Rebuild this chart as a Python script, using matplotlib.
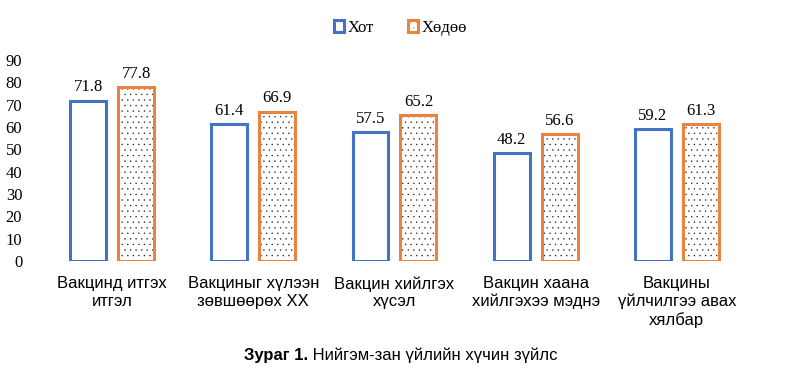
import matplotlib.pyplot as plt
from matplotlib.patches import Patch
import numpy as np

categories = ['Вакцинд итгэх\nитгэл', 'Вакциныг хүлээн\nзөвшөөрөх XX', 'Вакцин хийлгэх\nхүсэл',
              'Вакцин хаана\nхийлгэхээ мэднэ', 'Вакцины\nүйлчилгээ авах\nхялбар']
hot = [71.8, 61.4, 57.5, 48.2, 59.2]
hudoo = [77.8, 66.9, 65.2, 56.6, 61.3]
series_names = ['Хот', 'Хөдөө']

blue = '#4472C4'
orange = '#E9843E'

plt.rcParams['hatch.linewidth'] = 0.2

fig = plt.figure(figsize=(8.01, 3.70), dpi=100)
ax = fig.add_axes([0.052, 0.295, 0.881, 0.543])

x = np.arange(len(categories))
w = 0.255
off = 0.17

ax.bar(x - off, hot, w, facecolor='white', edgecolor=blue, linewidth=2.2)
# dotted fill first, orange border on top
ax.bar(x + off, hudoo, w, facecolor='white', edgecolor='#111111', hatch='...', linewidth=0)
ax.bar(x + off, hudoo, w, facecolor='none', edgecolor=orange, linewidth=2.2)

for i in range(len(categories)):
    ax.text(x[i] - off, hot[i] + 2.3, f'{hot[i]:.1f}', ha='center', va='bottom',
            family='Liberation Serif', fontsize=12)
    ax.text(x[i] + off, hudoo[i] + 2.3, f'{hudoo[i]:.1f}', ha='center', va='bottom',
            family='Liberation Serif', fontsize=12)

ax.set_xlim(-0.5, len(categories) - 0.5)
ax.set_ylim(0, 90)
ax.set_yticks(range(0, 91, 10))
ax.set_xticks(x)
ax.set_xticklabels(categories, family='Liberation Sans', fontsize=12, linespacing=1.2)
for lab in ax.get_yticklabels():
    lab.set_family('Liberation Serif')
    lab.set_fontsize(12)
ax.tick_params(length=0, axis='both')
ax.tick_params(axis='y', pad=14)
ax.tick_params(axis='x', pad=11)
for s in ax.spines.values():
    s.set_visible(False)

h1 = Patch(facecolor='white', edgecolor=blue, linewidth=2.2)
h2 = Patch(facecolor='white', edgecolor=orange, linewidth=2.2, hatch='...')
fig.legend([h1, h2], series_names, loc='center', bbox_to_anchor=(0.5, 0.925), ncol=2,
           frameon=False, prop={'family': 'Liberation Serif', 'size': 12},
           handlelength=0.6, handleheight=0.7, columnspacing=2.0, handletextpad=0.25)

fig.text(0.5, 0.04, 'Зураг 1.', ha='right', va='center', family='Liberation Sans',
         fontsize=12, fontweight='bold')
fig.text(0.5, 0.04, ' Нийгэм-зан үйлийн хүчин зүйлс', ha='left', va='center',
         family='Liberation Sans', fontsize=12)
# shift caption pieces so the whole line is centred
fig.canvas.draw()
t1, t2 = fig.texts[0], fig.texts[1]
r = fig.canvas.get_renderer()
b1 = t1.get_window_extent(r)
b2 = t2.get_window_extent(r)
shift = (b1.width - b2.width) / 2 / fig.bbox.width
t1.set_x(0.5 + shift)
t2.set_x(0.5 + shift)

fig.savefig('out.png', dpi=100)
